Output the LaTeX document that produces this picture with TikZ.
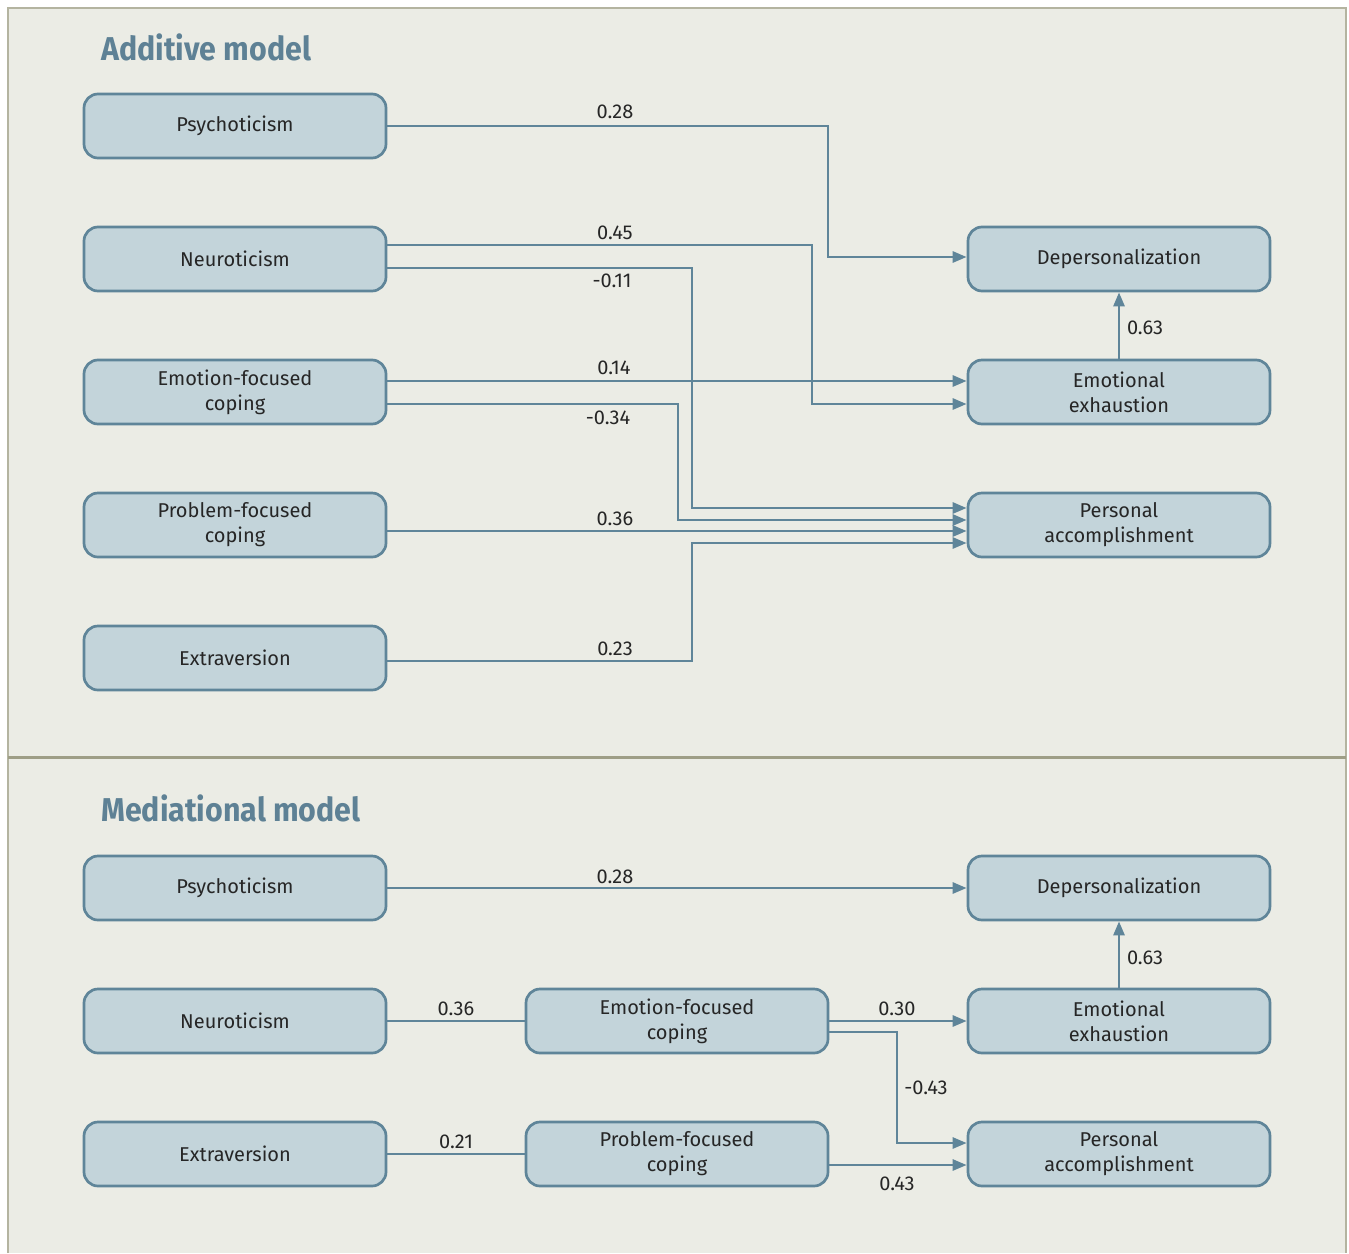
\documentclass[tikz,border=0pt]{standalone}
\usepackage{fontspec}
\setmainfont{Fira Sans}
\newfontfamily\titlefont[FakeStretch=0.92]{Fira Sans}
\usetikzlibrary{arrows.meta}
\definecolor{panelbg}{HTML}{EBECE5}
\definecolor{panelbd}{HTML}{B4B4A0}
\definecolor{divline}{HTML}{9E9E86}
\definecolor{boxfill}{HTML}{C3D4DA}
\definecolor{boxline}{HTML}{5F8599}
\definecolor{titlecol}{HTML}{5E8195}
\begin{document}
\begin{tikzpicture}[x=1pt,y=-1pt,
  box/.style={draw=boxline, fill=boxfill, line width=2.7pt, rounded corners=14pt,
    minimum width=302pt, minimum height=64pt, inner sep=0pt, align=center,
    font=\fontsize{20}{25}\selectfont, text=black!85},
  conn/.style={draw=boxline, line width=2.7pt},
  arr/.style={conn, -{Triangle[length=14pt,width=11pt]}},
  lbl/.style={font=\fontsize{20}{24}\selectfont, text=black!85, inner sep=0pt},
  ttl/.style={font=\titlefont\fontsize{33}{38}\selectfont\bfseries, text=titlecol, anchor=west, inner sep=0pt}]
\useasboundingbox (0,0) rectangle (1349,1253);
\fill[white] (0,0) rectangle (1349,1253);
\fill[panelbg] (8,8) rectangle (1346,1253);
\draw[panelbd, line width=2.5pt] (8,1253) -- (8,8) -- (1346,8) -- (1346,1253);
\draw[divline, line width=3pt] (8,757) -- (1346,757);

% Additive model
\node[ttl] (t1) at (101,47) {Additive model};
\node[box] (aP) at (235,126) {Psychoticism};
\node[box] (aN) at (235,259) {Neuroticism};
\node[box] (aE) at (235,392) {Emotion-focused\\coping};
\node[box] (aF) at (235,525) {Problem-focused\\coping};
\node[box] (aX) at (235,658) {Extraversion};
\node[box] (aD) at (1119,259) {Depersonalization};
\node[box] (aEE) at (1119,392) {Emotional\\exhaustion};
\node[box] (aPA) at (1119,525) {Personal\\accomplishment};

\draw[arr] (aP.east) -- (828,126) -- (828,257) -- (aD.west |- 0,257);
\draw[arr] (aN.east |- 0,245) -- (812,245) -- (812,404) -- (aEE.west |- 0,404);
\draw[arr] (aN.east |- 0,268) -- (692,268) -- (692,508) -- (aPA.west |- 0,508);
\draw[arr] (aE.east |- 0,381) -- (aEE.west |- 0,381);
\draw[arr] (aE.east |- 0,404) -- (678,404) -- (678,520) -- (aPA.west |- 0,520);
\draw[arr] (aF.east |- 0,531) -- (aPA.west |- 0,531);
\draw[arr] (aX.east |- 0,661) -- (692,661) -- (692,543) -- (aPA.west |- 0,543);
\draw[arr] (aEE.north) -- (aD.south);

\node[lbl] (l1) at (615,112) {0.28};
\node[lbl] (l2) at (615,233) {0.45};
\node[lbl] (l3) at (612,281) {-0.11};
\node[lbl] (l4) at (614,368) {0.14};
\node[lbl] (l5) at (608,418) {-0.34};
\node[lbl] (l6) at (615,519) {0.36};
\node[lbl] (l7) at (615,649) {0.23};
\node[lbl] (l8) at (1145,328) {0.63};

% Mediational model
\node[ttl] (t2) at (101,808) {Mediational model};
\node[box] (mP) at (235,888) {Psychoticism};
\node[box] (mN) at (235,1021) {Neuroticism};
\node[box] (mX) at (235,1154) {Extraversion};
\node[box] (mE) at (677,1021) {Emotion-focused\\coping};
\node[box] (mF) at (677,1154) {Problem-focused\\coping};
\node[box] (mD) at (1119,888) {Depersonalization};
\node[box] (mEE) at (1119,1021) {Emotional\\exhaustion};
\node[box] (mPA) at (1119,1154) {Personal\\accomplishment};

\draw[arr] (mP.east) -- (mD.west);
\draw[conn] (mN.east) -- (mE.west);
\draw[conn] (mX.east) -- (mF.west);
\draw[arr] (mE.east) -- (mEE.west);
\draw[arr] (mE.east |- 0,1032) -- (897,1032) -- (897,1143) -- (mPA.west |- 0,1143);
\draw[arr] (mF.east |- 0,1165) -- (mPA.west |- 0,1165);
\draw[arr] (mEE.north) -- (mD.south);

\node[lbl] (m1) at (615,877) {0.28};
\node[lbl] (m2) at (456,1009) {0.36};
\node[lbl] (m3) at (456,1142) {0.21};
\node[lbl] (m4) at (897,1009) {0.30};
\node[lbl] (m5) at (926,1088) {-0.43};
\node[lbl] (m6) at (897,1184) {0.43};
\node[lbl] (m7) at (1145,958) {0.63};
\end{tikzpicture}
\end{document}
